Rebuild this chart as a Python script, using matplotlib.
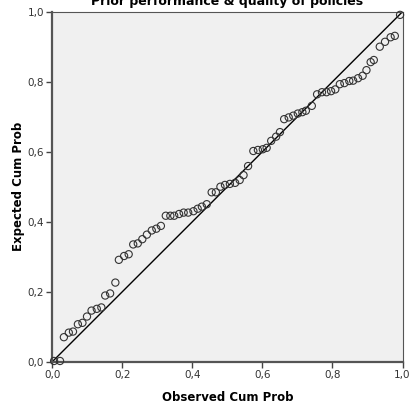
import matplotlib.pyplot as plt
import numpy as np

# Observed vs expected cumulative probabilities (P-P plot)
observed = [0.005, 0.022, 0.033, 0.047, 0.059, 0.073, 0.086, 0.099, 0.112, 0.127,
            0.140, 0.151, 0.165, 0.180, 0.190, 0.205, 0.218, 0.231, 0.244, 0.257,
            0.270, 0.284, 0.297, 0.310, 0.324, 0.337, 0.348, 0.362, 0.375, 0.388,
            0.403, 0.415, 0.427, 0.441, 0.455, 0.467, 0.480, 0.493, 0.507, 0.522,
            0.535, 0.546, 0.559, 0.574, 0.587, 0.601, 0.612, 0.625, 0.639, 0.650,
            0.662, 0.675, 0.688, 0.701, 0.714, 0.724, 0.741, 0.756, 0.770, 0.783,
            0.796, 0.808, 0.821, 0.834, 0.848, 0.859, 0.873, 0.886, 0.897, 0.909,
            0.918, 0.935, 0.950, 0.966, 0.978, 0.993]
expected = [0.002, 0.002, 0.070, 0.083, 0.086, 0.107, 0.111, 0.129, 0.146, 0.151,
            0.155, 0.189, 0.195, 0.226, 0.291, 0.302, 0.307, 0.335, 0.338, 0.350,
            0.363, 0.375, 0.380, 0.388, 0.417, 0.417, 0.417, 0.422, 0.426, 0.426,
            0.430, 0.437, 0.443, 0.450, 0.484, 0.484, 0.500, 0.505, 0.508, 0.511,
            0.519, 0.533, 0.559, 0.602, 0.605, 0.607, 0.611, 0.631, 0.643, 0.656,
            0.693, 0.698, 0.703, 0.709, 0.713, 0.717, 0.731, 0.764, 0.770, 0.770,
            0.773, 0.778, 0.793, 0.796, 0.802, 0.803, 0.810, 0.817, 0.833, 0.856,
            0.862, 0.900, 0.914, 0.927, 0.931, 0.991]
ticks = [0.0, 0.2, 0.4, 0.6, 0.8, 1.0]
tick_labels = ['0,0', '0,2', '0,4', '0,6', '0,8', '1,0']

fig = plt.figure(figsize=(4.12, 4.11), dpi=100)
ax = fig.add_axes([0.127, 0.12, 0.85, 0.8515])
ax.set_facecolor('#f0f0f0')

ax.plot([0, 1], [0, 1], color='black', linewidth=1.0, zorder=2)
ax.scatter(observed, expected, s=27, facecolors='none', edgecolors='#333333',
           linewidths=0.8, zorder=3, clip_on=False)

ax.set_xlim(0, 1)
ax.set_ylim(0, 1)
ax.set_xticks(ticks)
ax.set_yticks(ticks)
ax.set_xticklabels(tick_labels)
ax.set_yticklabels(tick_labels)
ax.tick_params(direction='out', length=4, width=1, color='#444444',
               labelsize=7.5, labelcolor='#333333', pad=2)

for side in ['left', 'bottom']:
    ax.spines[side].set_linewidth(1.6)
    ax.spines[side].set_color('#555555')
for side in ['top', 'right']:
    ax.spines[side].set_linewidth(0.8)
    ax.spines[side].set_color('#555555')

ax.set_xlabel('Observed Cum Prob', fontsize=8.5, fontweight='bold', labelpad=8)
ax.set_ylabel('Expected Cum Prob', fontsize=8.5, fontweight='bold', labelpad=2)
fig.text(0.551, (411 - 5) / 411, 'Prior performance & quality of policies',
         ha='center', va='baseline', fontsize=9, fontweight='bold')

fig.savefig('out.png', dpi=100)
